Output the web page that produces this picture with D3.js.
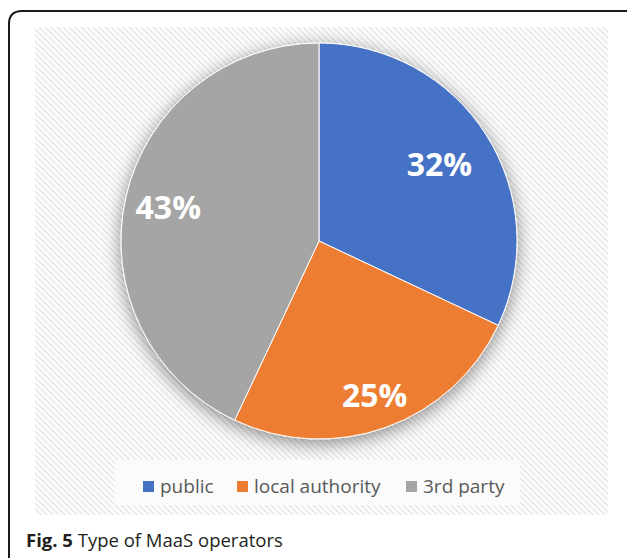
<!DOCTYPE html>
<html><head><meta charset="utf-8">
<script src="https://cdn.jsdelivr.net/npm/d3@7"></script>
<style>body{margin:0;background:#fff;} svg{display:block;}</style>
</head><body>
<script>
const categories = ["public", "local authority", "3rd party"];
const values = [32, 25, 43];
const labels = ["32%", "25%", "43%"];
const colors = ["#4472c4", "#ed7d31", "#a5a5a5"];
const labelRadius = [0.72, 0.83, 0.78];

const W = 627, H = 559;
const svg = d3.select("body").append("svg").attr("width", W).attr("height", H);
const defs = svg.append("defs");
const pat = defs.append("pattern").attr("id","hatch").attr("patternUnits","userSpaceOnUse")
  .attr("width",6).attr("height",6);
pat.append("rect").attr("width",6).attr("height",6).attr("fill","#fff");
pat.append("path").attr("d","M-1,-1 L7,7 M-4,2 L2,8 M2,-4 L8,2").attr("stroke","#ececec").attr("stroke-width",2);
const f = defs.append("filter").attr("id","shadow").attr("x","-30%").attr("y","-30%").attr("width","160%").attr("height","160%");
f.append("feDropShadow").attr("dx",0).attr("dy",4).attr("stdDeviation",9).attr("flood-color","#000").attr("flood-opacity",0.45);

// frame
svg.append("path").attr("d","M9,558 L9,24 Q9,11 22,11 L630,11").attr("fill","none").attr("stroke","#1a1a1a").attr("stroke-width",2);

// chart area
svg.append("rect").attr("x",35).attr("y",27).attr("width",573).attr("height",488).attr("fill","url(#hatch)");

const cx = 319, cy = 241, r = 198;
const pie = d3.pie().sort(null).value(d => d)(values);
const arc = d3.arc().innerRadius(0).outerRadius(r);
const g = svg.append("g").attr("transform", `translate(${cx},${cy})`);
g.append("g").attr("filter","url(#shadow)").selectAll("path").data(pie).join("path")
  .attr("d", arc).attr("fill", (d,i) => colors[i]).attr("stroke","#fff").attr("stroke-width",1);
g.selectAll("text").data(pie).join("text")
  .attr("transform", (d,i) => {
    const a = (d.startAngle + d.endAngle)/2, rr = r*labelRadius[i];
    return `translate(${rr*Math.sin(a)},${-rr*Math.cos(a)})`;
  })
  .attr("text-anchor","middle").attr("dy","0.36em")
  .attr("font-family","'Open Sans', sans-serif").attr("font-weight","bold").attr("font-size",32)
  .attr("fill","#fff").text((d,i) => labels[i]);

// legend
svg.append("rect").attr("x",115).attr("y",460).attr("width",405).attr("height",45).attr("fill","#fbfbfb");
const legX = [143, 237, 406];
const lg = svg.append("g");
categories.forEach((c,i) => {
  lg.append("rect").attr("x",legX[i]).attr("y",481).attr("width",11).attr("height",11).attr("fill",colors[i]);
  lg.append("text").attr("x",legX[i]+17).attr("y",493).attr("font-family","'Open Sans', sans-serif")
    .attr("font-size",19).attr("fill","#595959").text(c);
});

// caption
const cap = svg.append("text").attr("x",26).attr("y",547).attr("font-family","'Open Sans', sans-serif").attr("font-size",18.5).attr("fill","#231f20");
cap.append("tspan").attr("font-weight","bold").text("Fig. 5");
cap.append("tspan").text(" Type of MaaS operators");
</script>
</body></html>
